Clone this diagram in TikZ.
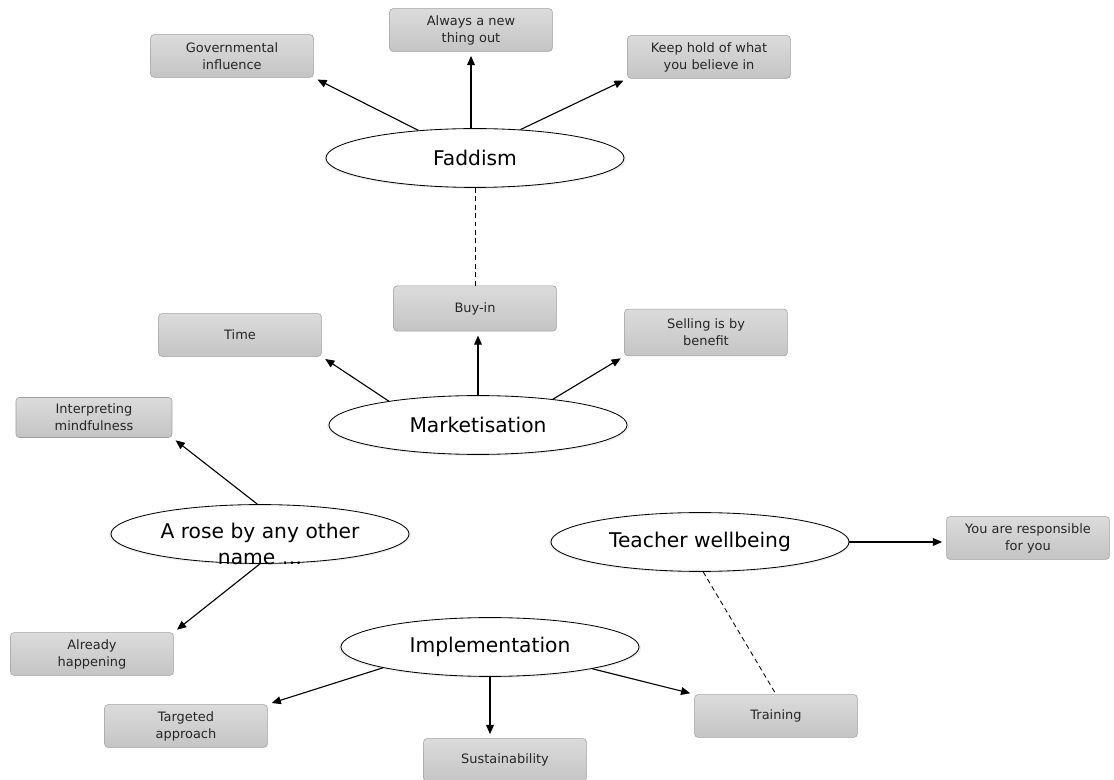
\documentclass[tikz,border=0pt]{standalone}
\usepackage{fontspec}
\setmainfont{DejaVu Sans}
\usetikzlibrary{arrows.meta,shapes.geometric,shadows}
\newcommand{\epais}[0]{thick}
\newcommand{\theme}[3]{\node[theme] (#1) at (#2) {#3}}
\newcommand{\boite}[4][]{\node[boite,#1] (#2) at (#3) {#4}}
\newcommand{\fleche}[2]{\draw[fleche] (#1) -- (#2)}
\newcommand{\tiret}[2]{\draw[tiret] (#1) -- (#2)}

\begin{document}
\begin{tikzpicture}[x = 0.025cm, y = -0.025cm,
	theme/.style = {ellipse, draw, semithick, fill = white, inner sep = 0pt,
		minimum width = 7.45cm, minimum height = 1.47cm, align = center,
		drop shadow = {shadow xshift = 0pt, shadow yshift = -0.8pt,
			shadow scale = 1.015, opacity = 0.12},
		font = \fontsize{14.4}{19}\selectfont},
	boite/.style = {rectangle, rounded corners = 2.5pt, draw = gray!75,
		top color = gray!28, bottom color = gray!46, align = center,
		minimum width = 4.07cm, minimum height = 1.07cm, inner sep = 1pt,
		text = black!85, font = \fontsize{9.2}{12}\selectfont},
	fleche/.style = {\epais, -{Triangle[length = 6.5pt, width = 5.5pt]},
		shorten > = 3pt},
	tiret/.style = {semithick, dash pattern = on 3.5pt off 2.5pt}]
	\useasboundingbox (0,0) rectangle (1114,780);
%The themes
	\theme{fad}{475,158}{Faddism};
	\theme{mkt}{478,425}{Marketisation};
	\theme{rose}{260,534}{};
	\node[font = \fontsize{14.4}{19}\selectfont, align = center] (rosetxt)
		at (260,544) {A rose by any other\\name …};
	\theme{tw}{700,542}{Teacher wellbeing};
	\theme{impl}{490,647}{Implementation};
%The boxes
	\boite{gov}{232,56}{Governmental\\influence};
	\boite{alw}{471,30}{Always a new\\thing out};
	\boite{keep}{709,57}{Keep hold of what\\you believe in};
	\boite[minimum height = 1.13cm]{buy}{475,308.5}{Buy-in};
	\boite{time}{240,335}{Time};
	\boite[minimum height = 1.17cm]{sell}{706,332.5}{Selling is by\\benefit};
	\boite[minimum width = 3.9cm, minimum height = 1cm]{interp}{94,417.5}{Interpreting\\mindfulness};
	\boite{alr}{92,654}{Already\\happening};
	\boite{you}{1028,538}{You are responsible\\for you};
	\boite{targ}{186,726}{Targeted\\approach};
	\boite{sus}{505,760}{Sustainability};
	\boite{train}{776,716}{Training};
%Arrows
	\fleche{fad.154}{gov.south east};
	\fleche{fad.north -| alw.south}{alw.south};
	\fleche{fad.32}{keep.south west};
	\fleche{mkt.165}{time.south east};
	\fleche{mkt.north}{mkt.north |- buy.south};
	\fleche{mkt.19}{sell.south west};
	\fleche{rose.95}{interp.south east};
	\fleche{rose.south}{alr.north east};
	\fleche{impl.191}{targ.north east};
	\fleche{impl.south}{impl.south |- sus.north};
	\fleche{impl.-12}{train.north west};
	\fleche{tw.east}{tw.east -| you.west};
%Dashed links
	\tiret{fad.south}{buy.north};
	\tiret{tw.-84}{train.north};
\end{tikzpicture}
\end{document}
